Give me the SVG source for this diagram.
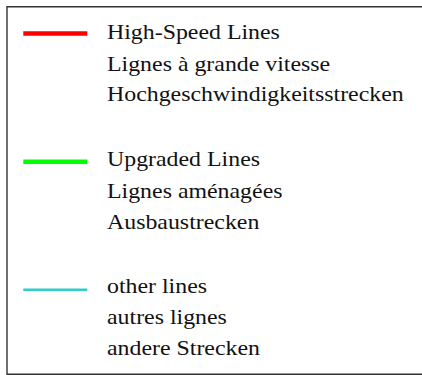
<svg xmlns="http://www.w3.org/2000/svg" width="422" height="375" viewBox="0 0 422 375">
<style>
text{font-family:"Liberation Serif","Times New Roman",serif;font-size:21px;fill:#111}
.k{fill:none;stroke-linecap:butt}
</style>
<rect x="0" y="0" width="422" height="375" fill="#fff"/>
<path d="M7 375 V6.7 H430 M7 374.3 H430" fill="none" stroke="#333" stroke-width="1.4"/>
<g id="highspeed">
<line class="k" x1="23.3" y1="33.4" x2="87.3" y2="33.4" stroke="#ff0000" stroke-width="4.5"/>
<g transform="translate(107 0) scale(1.136 1)">
<text x="0" y="39.5">High-Speed Lines</text>
<text x="0" y="71">Lignes à grande vitesse</text>
<text x="0" y="101">Hochgeschwindigkeitsstrecken</text>
</g>
</g>
<g id="upgraded">
<line class="k" x1="23.3" y1="161.7" x2="87.3" y2="161.7" stroke="#00ff00" stroke-width="4.5"/>
<g transform="translate(107 0) scale(1.136 1)">
<text x="0" y="166">Upgraded Lines</text>
<text x="0" y="198">Lignes aménagées</text>
<text x="0" y="229">Ausbaustrecken</text>
</g>
</g>
<g id="other">
<line class="k" x1="23.3" y1="289.7" x2="87.3" y2="289.7" stroke="#33cccc" stroke-width="2.6"/>
<g transform="translate(107 0) scale(1.136 1)">
<text x="0" y="293">other lines</text>
<text x="0" y="324">autres lignes</text>
<text x="0" y="355.5">andere Strecken</text>
</g>
</g>
</svg>
